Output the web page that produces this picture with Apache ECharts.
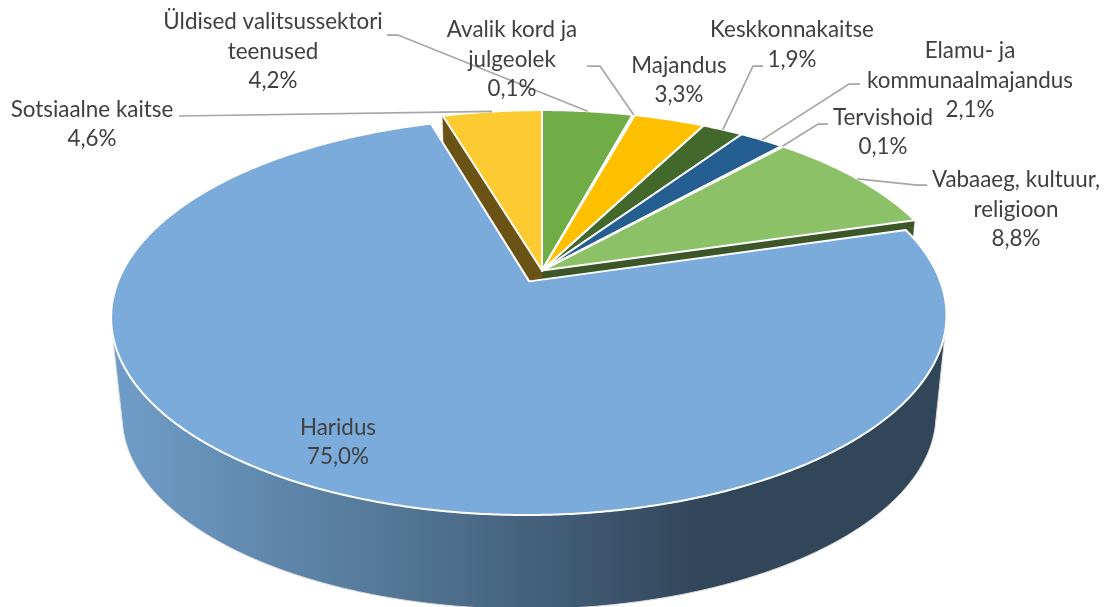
<!DOCTYPE html>
<html>
<head>
<meta charset="utf-8">
<style>
html, body { margin: 0; padding: 0; background: #fff; }
#main { width: 1106px; height: 607px; }
</style>
<script src="https://cdn.jsdelivr.net/npm/echarts@6/dist/echarts.min.js"></script>
</head>
<body>
<div id="main"></div>
<script>
// clockwise from the top of the pie
var sectorNames = ['Üldised valitsussektori\nteenused', 'Avalik kord ja\njulgeolek', 'Majandus', 'Keskkonnakaitse',
    'Elamu- ja\nkommunaalmajandus', 'Tervishoid', 'Vabaaeg, kultuur,\nreligioon', 'Haridus', 'Sotsiaalne kaitse'];
var sectorValues = [4.2, 0.1, 3.3, 1.9, 2.1, 0.1, 8.8, 75.0, 4.6];
var sectorColors = ['#70AD47', '#9DC3E6', '#FFC000', '#43682B', '#255E91', '#9E480E', '#8CC168', '#7AABDB', '#FBCB31'];
var cutColors = { 6: '#3D5628', 8: '#6B5215' };

// label layout, same order as sectorNames
var labelCenters = [[273, 51.5], [512, 59.5], [679, 80.5], [792, 45], [970, 80.5], [883, 132.5], [1016, 209.5], [338, 442.5], [92, 124.5]];
// leader line: start, elbow
var leaders = [[[387, 35], [398, 35]], [[587, 66], [600, 66]], null, [[763, 66], [753, 66]], [[860, 84], [849, 84]],
    [[828, 124], [818, 124]], [[927, 185], [917, 185]], null, [[179, 116], [179, 116]]];

var explodedIndex = 7;
var explode = 0.065;
var total = sectorValues.reduce(function (a, b) { return a + b; }, 0);

// pie geometry
var cx = 542, cy = 270.5, rx = 407, ry = 188.5, persp = 0.175, depth = 100.4, shrink = 0.026;

function project(u, v, z) {
    var w = (1 - z * shrink) / (1 - persp * v);
    return [cx + rx * u * w, cy + ry * v * w + z * depth];
}
function rimPoint(angle, off, z) {
    return project(Math.sin(angle) + off[0], -Math.cos(angle) + off[1], z);
}
function sectorAngles(i) {
    var before = 0;
    for (var k = 0; k < i; k++) before += sectorValues[k];
    return [before / total * 2 * Math.PI, (before + sectorValues[i]) / total * 2 * Math.PI];
}
function sectorOffset(i) {
    if (i !== explodedIndex) return [0, 0];
    var a = sectorAngles(i), mid = (a[0] + a[1]) / 2;
    return [Math.sin(mid) * explode, -Math.cos(mid) * explode];
}
function arcPoints(i, z) {
    var a = sectorAngles(i), off = sectorOffset(i), pts = [];
    var steps = Math.max(2, Math.ceil((a[1] - a[0]) / 0.008));
    for (var s = 0; s <= steps; s++) {
        pts.push(rimPoint(a[0] + (a[1] - a[0]) * s / steps, off, z));
    }
    return pts;
}
// only the part of the rim wall that faces the viewer, so the sides end on straight edges
function wallPoints(i) {
    var top = arcPoints(i, 0), bottom = arcPoints(i, 1), first = -1, last = -1;
    for (var s = 0; s < top.length - 1; s++) {
        var dx = bottom[s][0] - top[s][0], dy = bottom[s][1] - top[s][1];
        var tx = top[s + 1][0] - top[s][0], ty = top[s + 1][1] - top[s][1];
        if (dx * ty - dy * tx > 0) {
            if (first < 0) first = s;
            last = s + 1;
        }
    }
    return top.slice(first, last + 1).concat(bottom.slice(first, last + 1).reverse());
}

var wallGradient = {
    type: 'linear', x: 115, y: 0, x2: 700, y2: 0, global: true,
    colorStops: [{ offset: 0, color: '#6F9DC8' }, { offset: 0.5, color: '#527594' }, { offset: 1, color: '#32465A' }]
};

function renderSector(params, api) {
    var i = params.dataIndex;
    var off = sectorOffset(i);
    var a = sectorAngles(i);
    var children = [];
    var apex = project(off[0], off[1], 0);

    // cut faces seen through the gap left by the exploded slice
    if (cutColors[i]) {
        var edge = i === 6 ? a[1] : a[0];
        children.push({
            type: 'polygon', z2: 1,
            shape: { points: [apex, rimPoint(edge, off, 0), rimPoint(edge, off, 1), project(off[0], off[1], 1)] },
            style: { fill: cutColors[i], stroke: cutColors[i], lineWidth: 0.5 }
        });
    }
    if (i === explodedIndex) {
        children.push({
            type: 'polygon', z2: 2,
            shape: { points: wallPoints(i) },
            style: { fill: wallGradient, stroke: '#D9D9D9', lineWidth: 1 }
        });
    }
    children.push({
        type: 'polygon', z2: i === explodedIndex ? 3 : 4,
        shape: { points: [apex].concat(arcPoints(i, 0)) },
        style: { fill: sectorColors[i], stroke: '#fff', lineWidth: 2, lineJoin: 'round' }
    });

    if (leaders[i]) {
        var mid = (a[0] + a[1]) / 2;
        children.push({
            type: 'polyline', z2: 5, silent: true,
            shape: { points: leaders[i].concat([rimPoint(mid, off, 0)]) },
            style: { fill: null, stroke: '#A6A6A6', lineWidth: 1.75 }
        });
    }
    children.push({
        type: 'text', z2: 6, silent: true,
        style: {
            x: labelCenters[i][0], y: labelCenters[i][1],
            text: sectorNames[i] + '\n' + api.value(0).toFixed(1).replace('.', ',') + '%',
            align: 'center', verticalAlign: 'middle',
            font: '22.4px Lato', lineHeight: 29.5, fill: '#404040'
        }
    });
    return { type: 'group', children: children };
}

var myChart = echarts.init(document.getElementById('main'));

var option = {
    animation: false,
    tooltip: {
        trigger: 'item',
        formatter: function (p) { return p.name.replace('\n', ' ') + ': ' + p.value[0].toFixed(1).replace('.', ',') + '%'; }
    },
    series: [
        {
            type: 'custom',
            coordinateSystem: 'none',
            renderItem: renderSector,
            data: sectorValues.map(function (v, i) {
                return { name: sectorNames[i], value: [v] };
            })
        }
    ]
};
myChart.setOption(option);
</script>
</body>
</html>
